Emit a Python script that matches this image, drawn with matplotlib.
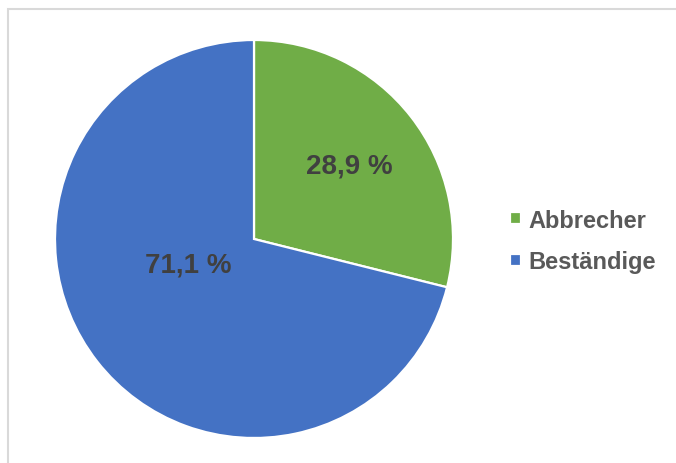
import matplotlib.pyplot as plt
from matplotlib.patches import Rectangle

plt.rcParams['font.family'] = ['Liberation Sans', 'DejaVu Sans']

categories = ["Abbrecher", "Beständige"]
shares = [28.9, 71.1]
colors = ["#70AD47", "#4472C4"]

W, H = 676, 464
fig = plt.figure(figsize=(W / 100, H / 100), dpi=100)

# light gray chart frame, running off the right and bottom edges
fig.patches.append(Rectangle((8 / W, -0.1), 1.2, (H - 10) / H + 0.1,
                             transform=fig.transFigure, fill=False,
                             edgecolor="#D9D9D9", linewidth=1.5))

cx, cy, r = 254, 240, 199
ax = fig.add_axes([(cx - r) / W, (H - cy - r) / H, 2 * r / W, 2 * r / H])
wedges, _ = ax.pie(shares, colors=colors, startangle=90, counterclock=False,
                   radius=1, wedgeprops=dict(edgecolor="white", linewidth=1.6))
ax.set_xlim(-1, 1)
ax.set_ylim(-1, 1)
ax.set_aspect("equal")
ax.axis("off")

# data labels, placed inside each slice
label_pos = [(0.48, 0.37), (-0.33, -0.13)]
for (x, y), v in zip(label_pos, shares):
    ax.text(x, y, f"{v:.1f} %".replace(".", ","), ha="center", va="center",
            fontsize=20, fontweight="bold", color="#404040")

leg = fig.legend(wedges, categories, loc="center left",
                 bbox_to_anchor=(489 / W, (H - 242) / H), frameon=False,
                 fontsize=17, handlelength=0.45, handleheight=0.45,
                 handletextpad=0.3, labelspacing=0.8)
for t in leg.get_texts():
    t.set_color("#595959")
    t.set_fontweight("bold")

fig.savefig("out.png", dpi=100)
